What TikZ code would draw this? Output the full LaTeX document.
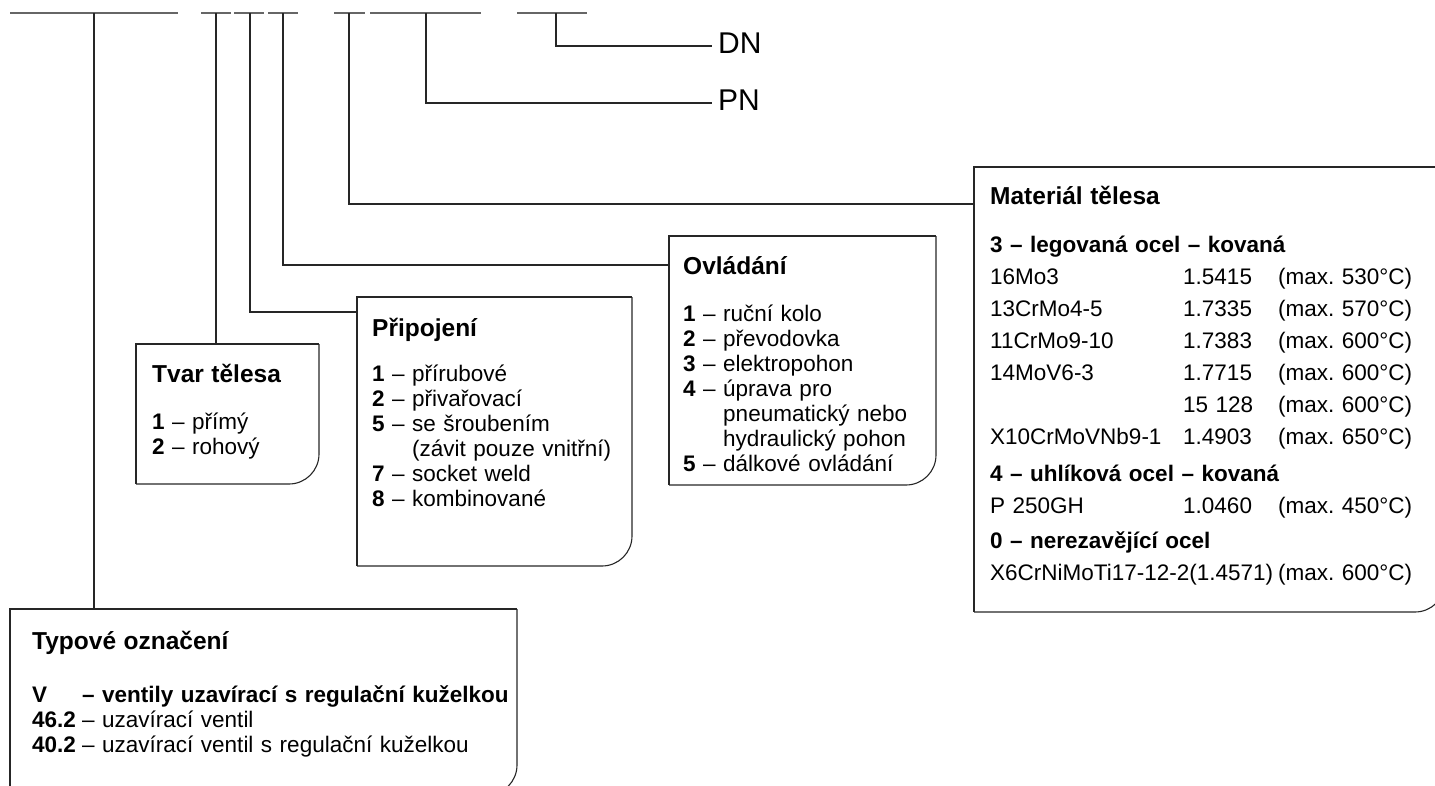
\documentclass[tikz,border=0pt]{standalone}
\usepackage{fontspec}
\setmainfont{Liberation Sans}
\usetikzlibrary{positioning}

\tikzset{
  line/.style={draw=black!85, line width=1.1pt},
  slot/.style={draw=black!60, line width=1.8pt},
  ramec/.style={anchor=north west, inner sep=0pt, outer sep=0pt},
  popis/.style={anchor=base west, inner sep=0pt, align=left, text width=600pt,
    font=\fontsize{22.5}{25}\selectfont\frenchspacing},
  kod/.style={anchor=west, inner sep=6pt, font=\fontsize{30}{32}\selectfont},
}
% ramecek: hranaty, jen pravy dolni roh zaobleny
\newcommand\ramecek[1]{%
  \draw[line] (#1.south west) -- (#1.north west) -- (#1.north east);
  \draw[line, rounded corners=30pt] (#1.north east) -- (#1.south east) -- (#1.south west);
}
\newcommand\nadpis[1]{{\fontsize{24.5}{25}\selectfont\bfseries #1}}
\newcommand\radek[3]{\makebox[193pt][l]{#1}\makebox[95pt][l]{#2}#3}

\begin{document}
\begin{tikzpicture}[x=1pt, y=-1pt]
  \useasboundingbox (0,0) rectangle (1435,785);

  % Typove oznaceni - mista kodu
  \foreach \a/\b in {10/178, 201/231, 234/264, 268/298, 334/365, 370/481, 517/587}
    \draw[slot] (\a,13) -- (\b,13);
  \coordinate (k1) at (94,13);
  \coordinate (k2) at (216,13);
  \coordinate (k3) at (250,13);
  \coordinate (k4) at (283,13);
  \coordinate (k5) at (349,13);
  \coordinate (k6) at (426,13);
  \coordinate (k7) at (556,13);

  % Ramecky
  \node[ramec, minimum width=507pt, minimum height=186pt] (typ) at (10,609) {};
  \node[ramec, minimum width=183pt, minimum height=140pt] (tvar) at (136,344) {};
  \node[ramec, minimum width=275pt, minimum height=269pt] (pripojeni) at (357,297) {};
  \node[ramec, minimum width=267pt, minimum height=249pt] (ovladani) at (669,236) {};
  \node[ramec, minimum width=471pt, minimum height=445pt] (material) at (974,167) {};
  \ramecek{typ}
  \ramecek{tvar}
  \ramecek{pripojeni}
  \ramecek{ovladani}
  \ramecek{material}

  % Texty
  \node[popis] (typText) at (32,649) {\nadpis{Typové označení}\\[28pt]
    \makebox[50pt][l]{\textbf{V}}\textbf{– ventily uzavírací s regulační kuželkou}\\
    \makebox[50pt][l]{\textbf{46.2}}– uzavírací ventil\\
    \makebox[50pt][l]{\textbf{40.2}}– uzavírací ventil s regulační kuželkou};

  \node[popis] (tvarText) at (152,382) {\nadpis{Tvar tělesa}\\[22pt]
    \textbf{1} – přímý\\
    \textbf{2} – rohový};

  \node[popis] (pripojeniText) at (372,336) {\nadpis{Připojení}\\[20pt]
    \textbf{1} – přírubové\\
    \textbf{2} – přivařovací\\
    \textbf{5} – se šroubením\\
    \phantom{\textbf{5} – }(závit pouze vnitřní)\\
    \textbf{7} – socket weld\\
    \textbf{8} – kombinované};

  \node[popis] (ovladaniText) at (683,274) {\nadpis{Ovládání}\\[22pt]
    \textbf{1} – ruční kolo\\
    \textbf{2} – převodovka\\
    \textbf{3} – elektropohon\\
    \textbf{4} – úprava pro\\
    \phantom{\textbf{4} – }pneumatický nebo\\
    \phantom{\textbf{4} – }hydraulický pohon\\
    \textbf{5} – dálkové ovládání};

  \node[popis, font=\fontsize{22.5}{32}\selectfont\frenchspacing] (materialText) at (990,204) {\nadpis{Materiál tělesa}\\[16pt]
    \textbf{3 – legovaná ocel – kovaná}\\
    \radek{16Mo3}{1.5415}{(max. 530°C)}\\
    \radek{13CrMo4-5}{1.7335}{(max. 570°C)}\\
    \radek{11CrMo9-10}{1.7383}{(max. 600°C)}\\
    \radek{14MoV6-3}{1.7715}{(max. 600°C)}\\
    \radek{}{15 128}{(max. 600°C)}\\
    \radek{X10CrMoVNb9-1}{1.4903}{(max. 650°C)}\\[5pt]
    \textbf{4 – uhlíková ocel – kovaná}\\
    \radek{P 250GH}{1.0460}{(max. 450°C)}\\[3pt]
    \textbf{0 – nerezavějící ocel}\\
    \makebox[288pt][l]{X6CrNiMoTi17-12-2(1.4571)}(max. 600°C)};

  \node[kod] (dn) at (712,43) {DN};
  \node[kod] (pn) at (712,100) {PN};

  % Spojnice
  \draw[line] (k1) -- (k1 |- typ.north);
  \draw[line] (k2) -- (k2 |- tvar.north);
  \draw[line] (k3) |- ([yshift=-15pt]pripojeni.north west);
  \draw[line] (k4) |- ([yshift=-29pt]ovladani.north west);
  \draw[line] (k5) |- ([yshift=-37pt]material.north west);
  \draw[line] (k6) |- ([yshift=-3pt]pn.west);
  \draw[line] (k7) |- ([yshift=-3pt]dn.west);
\end{tikzpicture}
\end{document}
